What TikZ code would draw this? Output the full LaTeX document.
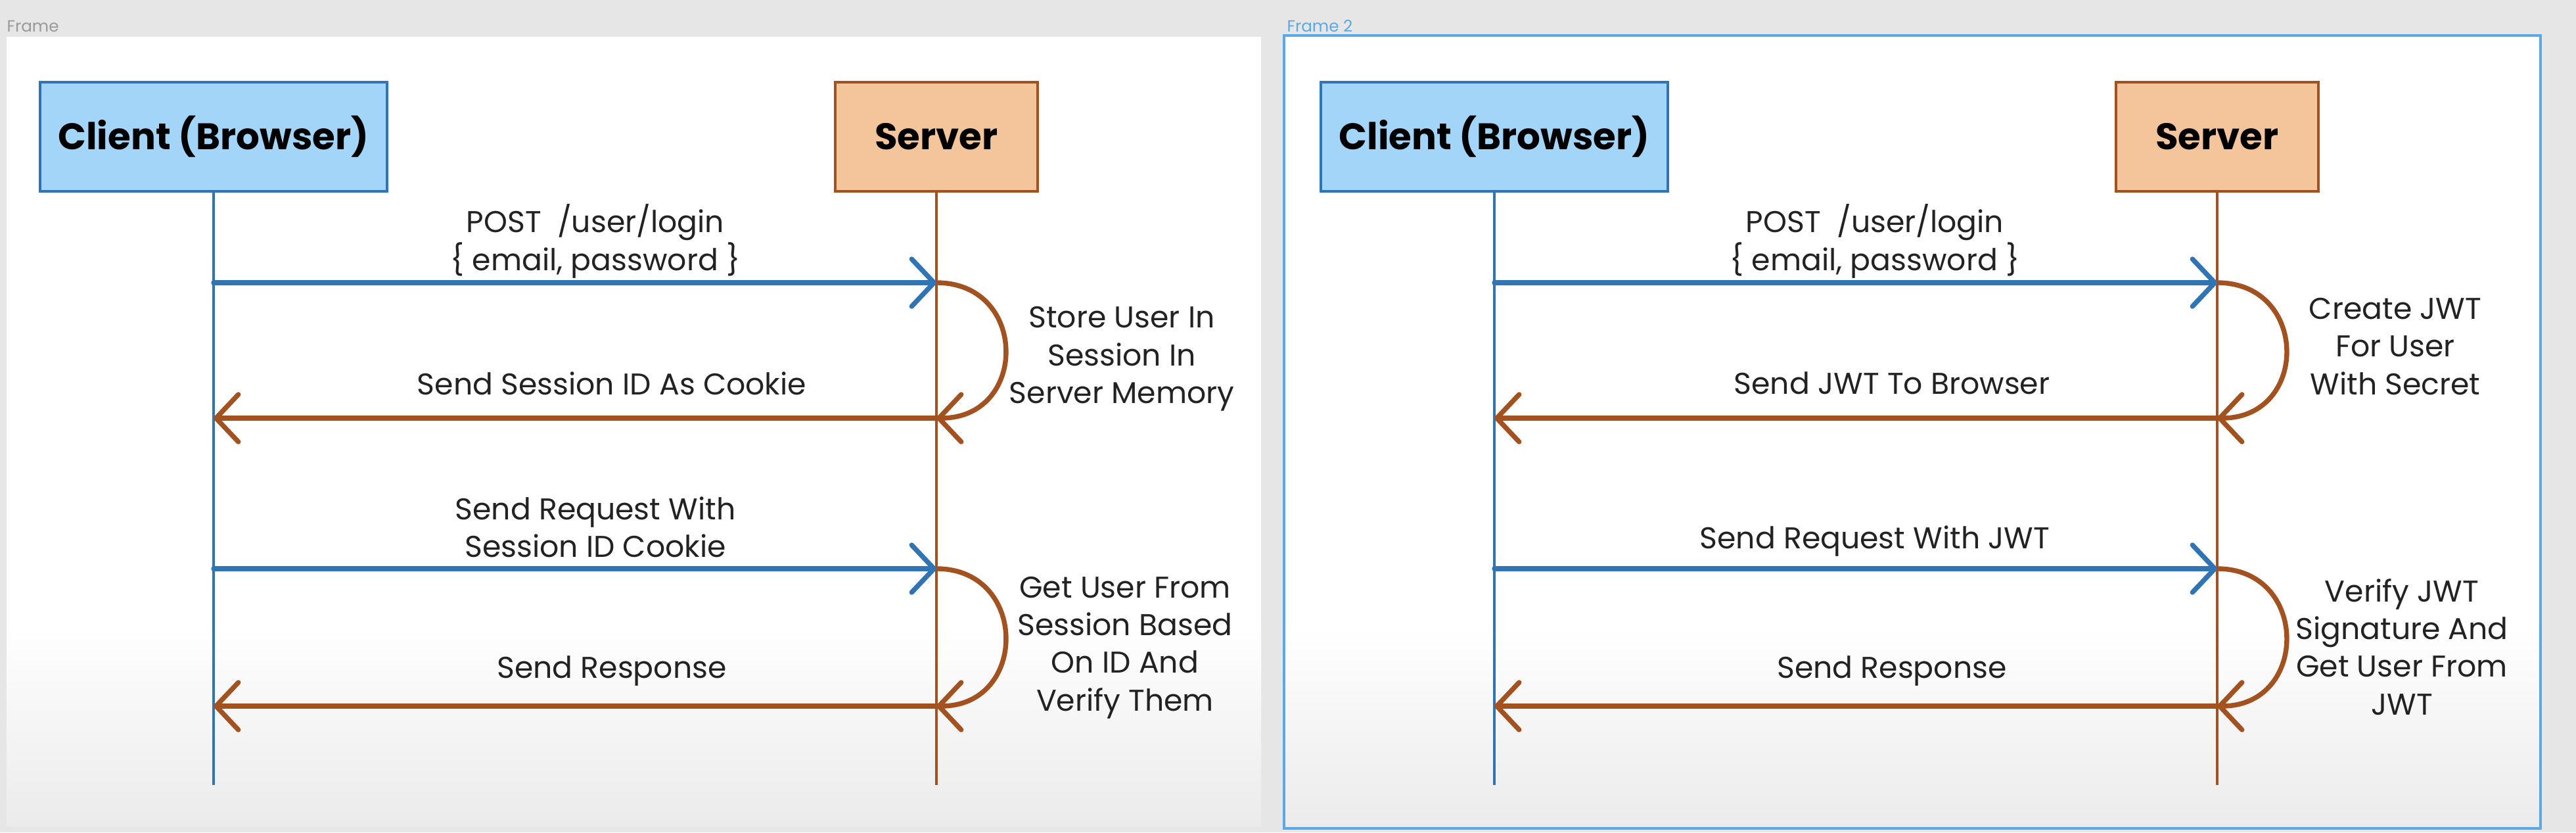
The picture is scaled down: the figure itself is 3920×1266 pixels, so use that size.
\documentclass[tikz,border=0pt]{standalone}
\usepackage{fontspec}
\setmainfont{Poppins}
\usetikzlibrary{arrows.meta}
\definecolor{bggray}{HTML}{E6E6E6}
\definecolor{cfill}{HTML}{A2D5F8}
\definecolor{cline}{HTML}{2F74B5}
\definecolor{sfill}{HTML}{F4C49B}
\definecolor{sline}{HTML}{A3511E}
\definecolor{framebl}{HTML}{5AA9E6}
\definecolor{txt}{HTML}{222222}
\tikzset{
  clientbox/.style={draw=cline, fill=cfill, line width=1.1pt, minimum width=5.27cm, minimum height=1.66cm, inner sep=0pt, font=\fontsize{16}{18}\selectfont\bfseries, text=black},
  serverbox/.style={draw=sline, fill=sfill, line width=1.1pt, minimum width=3.08cm, minimum height=1.66cm, inner sep=0pt, font=\fontsize{16}{18}\selectfont\bfseries, text=black},
  clife/.style={draw=cline, line width=0.9pt},
  slife/.style={draw=sline, line width=0.9pt},
  reqarrow/.style={draw=cline, line width=2.1pt, line cap=round, -{Straight Barb[length=3.4mm, width=7.2mm, round]}},
  resarrow/.style={draw=sline, line width=2.1pt, line cap=round, -{Straight Barb[length=3.4mm, width=7.2mm, round]}},
  lbl/.style={align=center, inner sep=0pt, text=txt, font=\fontsize{13}{16.3}\selectfont},
  framelbl/.style={anchor=west, inner sep=0pt, font=\fontsize{7}{8}\selectfont}
}
\begin{document}
\begin{tikzpicture}[x=0.01cm, y=-0.01cm]
\useasboundingbox (0,0) rectangle (3920,1266);
\fill[bggray] (0,0) rectangle (3920,1266);
% panels
\fill[white] (10,56) rectangle (1919,1256);
\shade[top color=white, bottom color=bggray!80] (10,950) rectangle (1919,1256);
\fill[white] (1954,54) rectangle (3866,1260);
\shade[top color=white, bottom color=bggray!80] (1954,950) rectangle (3866,1260);
\draw[framebl, line width=1.1pt] (1954,54) rectangle (3866,1260);
\node[framelbl, text=gray!80] (frame1) at (10,40) {Frame};
\node[framelbl, text=framebl] (frame2) at (1958,40) {Frame 2};

% ---------- left diagram ----------
\node[clientbox] (Lclient) at (325,208) {Client (Browser)};
\node[serverbox] (Lserver) at (1425,208) {Server};
\coordinate (Lcend) at (325,1194);
\coordinate (Lsend) at (1425,1194);
\draw[clife] (Lclient.south) -- (Lcend);
\draw[slife] (Lserver.south) -- (Lsend);
\coordinate (Lc1) at (325,430);  \coordinate (Ls1) at (1425,430);
\coordinate (Lc2) at (325,636);  \coordinate (Ls2) at (1425,636);
\coordinate (Lc3) at (325,865);  \coordinate (Ls3) at (1425,865);
\coordinate (Lc4) at (325,1074); \coordinate (Ls4) at (1425,1074);
\draw[resarrow] (Ls2) -- (Lc2);
\draw[resarrow] (Ls4) -- (Lc4);
\draw[resarrow] (Ls1) .. controls +(140,0) and +(140,0) .. (Ls2);
\draw[resarrow] (Ls3) .. controls +(140,0) and +(140,0) .. (Ls4);
\draw[reqarrow] (Lc1) -- (Ls1);
\draw[reqarrow] (Lc3) -- (Ls3);
\node[lbl] (Lt1) at (906,367) {POST\ \ /user/login\\\{ email, password \}};
\node[lbl] (Lt2) at (931,583) {Send Session ID As Cookie};
\node[lbl] (Lt3) at (906,802) {Send Request With\\Session ID Cookie};
\node[lbl] (Lt4) at (931,1021) {Send Response};
\node[lbl] (Lp1) at (1707,546) {Store User In\\Session In\\Server Memory};
\node[lbl] (Lp2) at (1712,985) {Get User From\\Session Based\\On ID And\\Verify Them};

% ---------- right diagram ----------
\node[clientbox] (Rclient) at (2274,208) {Client (Browser)};
\node[serverbox] (Rserver) at (3374,208) {Server};
\coordinate (Rcend) at (2274,1194);
\coordinate (Rsend) at (3374,1194);
\draw[clife] (Rclient.south) -- (Rcend);
\draw[slife] (Rserver.south) -- (Rsend);
\coordinate (Rc1) at (2274,430);  \coordinate (Rs1) at (3374,430);
\coordinate (Rc2) at (2274,636);  \coordinate (Rs2) at (3374,636);
\coordinate (Rc3) at (2274,865);  \coordinate (Rs3) at (3374,865);
\coordinate (Rc4) at (2274,1074); \coordinate (Rs4) at (3374,1074);
\draw[resarrow] (Rs2) -- (Rc2);
\draw[resarrow] (Rs4) -- (Rc4);
\draw[resarrow] (Rs1) .. controls +(140,0) and +(140,0) .. (Rs2);
\draw[resarrow] (Rs3) .. controls +(140,0) and +(140,0) .. (Rs4);
\draw[reqarrow] (Rc1) -- (Rs1);
\draw[reqarrow] (Rc3) -- (Rs3);
\node[lbl] (Rt1) at (2853,367) {POST\ \ /user/login\\\{ email, password \}};
\node[lbl] (Rt2) at (2879,583) {Send JWT To Browser};
\node[lbl] (Rt3) at (2853,823) {Send Request With JWT};
\node[lbl] (Rt4) at (2879,1021) {Send Response};
\node[lbl] (Rp1) at (3645,527) {Create JWT\\For User\\With Secret};
\node[lbl] (Rp2) at (3655,984) {Verify JWT\\Signature And\\Get User From\\JWT};
\end{tikzpicture}
\end{document}
